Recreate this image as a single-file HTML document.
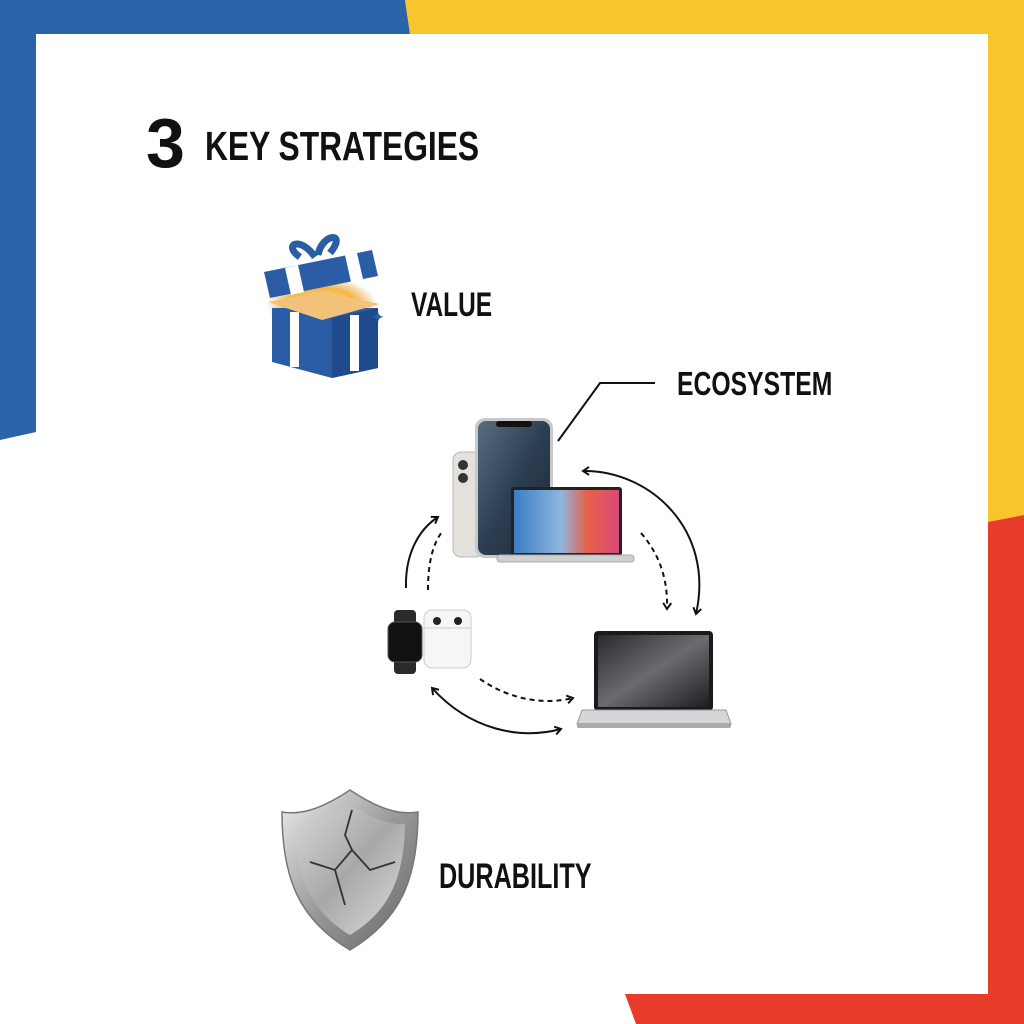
<!DOCTYPE html>
<html><head><meta charset="utf-8"><style>
html,body{margin:0;padding:0;background:#fff}
svg{display:block}
text{font-family:"Liberation Sans",sans-serif;font-weight:bold;fill:#111}
</style></head><body>
<svg width="1024" height="1024" viewBox="0 0 1024 1024" xmlns="http://www.w3.org/2000/svg">
<defs>
<linearGradient id="scr1" x1="0" y1="0" x2="1" y2="1"><stop offset="0" stop-color="#5a6c80"/><stop offset=".5" stop-color="#2c3e52"/><stop offset="1" stop-color="#1d2a38"/></linearGradient>
<linearGradient id="scr2" x1="0" y1="0" x2="1" y2="0"><stop offset="0" stop-color="#3a7ec8"/><stop offset=".45" stop-color="#8fb5de"/><stop offset=".7" stop-color="#e8604a"/><stop offset="1" stop-color="#d84a7a"/></linearGradient>
<linearGradient id="scr3" x1="0" y1="0" x2="1" y2="1"><stop offset="0" stop-color="#2a2a2e"/><stop offset=".5" stop-color="#6a6a70"/><stop offset="1" stop-color="#1e1e22"/></linearGradient>
<linearGradient id="sh" x1="0" y1="0" x2="1" y2="1"><stop offset="0" stop-color="#eee"/><stop offset=".5" stop-color="#999"/><stop offset="1" stop-color="#666"/></linearGradient>
<linearGradient id="shi" x1="0" y1="0" x2="1" y2="1"><stop offset="0" stop-color="#d8d8d8"/><stop offset=".5" stop-color="#a8a8a8"/><stop offset="1" stop-color="#ddd"/></linearGradient>
<radialGradient id="glow" cx=".5" cy=".5" r=".5"><stop offset="0" stop-color="#fff6c0"/><stop offset=".6" stop-color="#f3b545"/><stop offset="1" stop-color="#e8a040" stop-opacity="0"/></radialGradient>
<marker id="ah" markerWidth="10" markerHeight="10" refX="7" refY="5" orient="auto-start-reverse" markerUnits="userSpaceOnUse"><path d="M1,1 L7,5 L1,9" fill="none" stroke="#111" stroke-width="2"/></marker>
</defs>
<rect width="1024" height="1024" fill="#fff"/>
<polygon points="0,0 405,0 410,34 36,34 36,432 0,440" fill="#2a63a8"/>
<polygon points="405,0 1024,0 1024,515 988,522 988,34 410,34" fill="#f8c52c"/>
<polygon points="1024,515 1024,1024 636,1024 625,994 988,994 988,522" fill="#e83c2a"/>
<text x="146" y="167" font-size="70" transform="translate(146 0) scale(1.0 1) translate(-146 0)">3</text>
<text x="205" y="160" font-size="41" transform="translate(205 0) scale(0.775 1) translate(-205 0)">KEY STRATEGIES</text>
<text x="411" y="316" font-size="34" transform="translate(411 0) scale(0.72 1) translate(-411 0)">VALUE</text>
<text x="677" y="395" font-size="33" transform="translate(677 0) scale(0.75 1) translate(-677 0)">ECOSYSTEM</text>
<text x="439" y="888" font-size="35" transform="translate(439 0) scale(0.72 1) translate(-439 0)">DURABILITY</text>
<!-- gift -->
<ellipse cx="322" cy="305" rx="55" ry="28" fill="url(#glow)"/>
<polygon points="272,308 378,308 378,368 332,378 272,362" fill="#2b5da6"/>
<polygon points="332,318 378,308 378,368 332,378" fill="#1f4a8c"/>
<rect x="290" y="312" width="9" height="55" fill="#fff"/>
<rect x="350" y="315" width="9" height="56" fill="#fff"/>
<polygon points="268,302 322,320 380,304 322,292" fill="#f2c27a"/>
<polygon points="264,272 372,250 378,276 270,298" fill="#2b5da6"/>
<polygon points="285,268 298,265 304,292 291,295" fill="#fff"/>
<polygon points="345,255 357,253 363,279 351,282" fill="#fff"/>
<path d="M315,257 C300,235 282,245 300,257 M318,255 C322,233 348,231 330,253" fill="none" stroke="#2b5da6" stroke-width="7"/>
<text x="372" y="322" font-size="14" style="fill:#2b5da6">✦</text>
<polyline points="558,441 600,383 655,383" fill="none" stroke="#111" stroke-width="2"/>
<rect x="453" y="452" width="30" height="105" rx="8" fill="#e4e0dc" stroke="#bbb"/>
<circle cx="463" cy="465" r="5" fill="#333"/><circle cx="463" cy="478" r="5" fill="#333"/>
<rect x="475" y="418" width="78" height="140" rx="10" fill="#c9c9cc"/>
<rect x="478" y="421" width="72" height="134" rx="8" fill="url(#scr1)"/>
<rect x="496" y="421" width="36" height="6" rx="3" fill="#111"/>
<rect x="511" y="487" width="111" height="69" rx="3" fill="#222"/>
<rect x="514" y="490" width="105" height="63" fill="url(#scr2)"/>
<rect x="497" y="555" width="137" height="7" rx="3" fill="#d0d0d2" stroke="#aaa"/>
<rect x="594" y="631" width="119" height="80" rx="4" fill="#1a1a1c"/>
<rect x="598" y="635" width="111" height="72" fill="url(#scr3)"/>
<polygon points="582,710 726,710 731,724 577,724" fill="#d6d6d8" stroke="#999"/>
<rect x="577" y="723" width="154" height="5" rx="2" fill="#aaa"/>
<rect x="394" y="610" width="22" height="64" rx="4" fill="#2a2a2c"/>
<rect x="388" y="622" width="34" height="40" rx="7" fill="#111" stroke="#555"/>
<rect x="424" y="610" width="47" height="58" rx="8" fill="#f6f6f6" stroke="#ccc"/>
<line x1="424" y1="628" x2="471" y2="628" stroke="#ccc"/>
<circle cx="437" cy="621" r="4" fill="#222"/><circle cx="458" cy="621" r="4" fill="#222"/>
<g fill="none" stroke="#111" stroke-width="2">
<path d="M406,588 C405,555 418,530 438,517" marker-end="url(#ah)"/>
<path d="M428,590 C428,565 432,545 442,532" stroke-dasharray="5,4"/>
<path d="M583,471 C650,470 715,530 696,614" marker-start="url(#ah)" marker-end="url(#ah)"/>
<path d="M641,533 C660,555 668,580 667,609" stroke-dasharray="5,4" marker-end="url(#ah)"/>
<path d="M480,679 C510,700 545,705 573,698" stroke-dasharray="5,4" marker-end="url(#ah)"/>
<path d="M432,688 C470,730 520,740 561,729" marker-start="url(#ah)" marker-end="url(#ah)"/>
</g>
<path d="M350,790 C320,810 300,815 282,812 C282,880 300,920 350,950 C400,920 418,880 418,812 C400,815 380,810 350,790 Z" fill="url(#sh)" stroke="#777" stroke-width="1.5"/>
<path d="M350,805 C325,820 308,825 295,824 C296,880 312,912 350,935 C388,912 404,880 405,824 C392,825 375,820 350,805 Z" fill="url(#shi)"/>
<path d="M352,810 L345,835 L352,850 L335,870 L310,862 M335,870 L345,905 M352,850 L370,870 L395,862" fill="none" stroke="#333" stroke-width="1.8"/>
</svg>
</body></html>
